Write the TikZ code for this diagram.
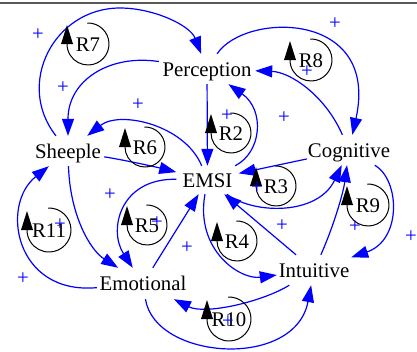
\documentclass[tikz,border=0pt]{standalone}
\usepackage{fontspec}
\setmainfont{Liberation Serif}
\usetikzlibrary{arrows.meta}
\newcommand\rloop[4]{%
  \node[looplbl] (#1) at (#2) {#3};
  \draw[loopc] (#1.center) ++(-92:#4) arc[start angle=-92,end angle=180,radius=#4];
  \fill (#1.center) ++(-#4,-19) -- ++(-6,19) -- ++(12,0) -- cycle;
}
\begin{document}
\begin{tikzpicture}[x=1pt,y=-1pt,
  concept/.style={inner sep=0pt, text height=14pt, text depth=0pt, minimum height=30pt, font=\fontsize{20.8}{24}\selectfont},
  looplbl/.style={inner sep=0pt, text height=14pt, text depth=0pt, font=\fontsize{20.8}{24}\selectfont},
  pol/.style={inner sep=0pt, text=blue, font=\fontsize{20.8}{24}\selectfont},
  link/.style={draw=blue, line width=1.2pt, -{Triangle[length=17pt,width=12pt]}},
  loopc/.style={draw=black, line width=1pt},
]
\useasboundingbox (0,0) rectangle (417,351);
\draw[draw=black!65, line width=1.3pt] (0,3) -- (417,3);

% concepts
\node[concept, minimum width=96pt] (perception) at (207,69) {Perception};
\node[concept, minimum width=72pt] (sheeple) at (68,151) {Sheeple};
\node[concept, minimum width=62pt, minimum height=28pt] (emsi) at (207.5,180) {EMSI};
\node[concept, minimum width=84pt] (cognitive) at (349,150) {Cognitive};
\node[concept, minimum width=92pt, minimum height=31pt] (emotional) at (143,283.5) {Emotional};
\node[concept, minimum width=74pt] (intuitive) at (314,270) {Intuitive};

% links
\coordinate (top1) at (120,8);
\draw[link] (sheeple) .. controls (15,84) and (54,8) .. (top1) .. controls (153,8) and (190,25) .. (perception);
\draw[link] (perception) .. controls (110,54) and (68,80) .. (sheeple);
\draw[link] (emsi) .. controls (185,125) and (120,110) .. (sheeple);
\draw[link] (sheeple) .. controls (130,161) and (160,168) .. (emsi);
\draw[link] (perception) -- (emsi);
\draw[link] (emsi) .. controls (262,152) and (265,110) .. (perception);
\draw[link] (cognitive) -- (emsi);
\draw[link] (perception) .. controls (245,12) and (380,10) .. (cognitive);
\draw[link] (cognitive) .. controls (325,95) and (290,72) .. (perception);
\draw[link] (emsi) .. controls (255,215) and (318,215) .. (cognitive);
\draw[link] (cognitive) .. controls (400,180) and (402,240) .. (intuitive);
\draw[link] (intuitive) .. controls (332,230) and (343,195) .. (cognitive);
\draw[link] (intuitive) -- (emsi);
\draw[link] (emsi) .. controls (195,250) and (240,280) .. (intuitive);
\draw[link] (intuitive) .. controls (262,302) and (205,315) .. (emotional);
\draw[link] (emotional) .. controls (155,360) and (295,370) .. (intuitive);
\draw[link] (emotional) -- (emsi);
\draw[link] (emsi) .. controls (120,178) and (108,230) .. (emotional);
\draw[link] (emotional) .. controls (15,295) and (0,205) .. (sheeple);
\draw[link] (sheeple) .. controls (70,215) and (90,250) .. (emotional);

% loops
\rloop{r7}{88,44}{R7}{21}
\rloop{r6}{145,147}{R6}{20}
\rloop{r8}{311,60}{R8}{21}
\rloop{r2}{231,133}{R2}{20}
\rloop{r3}{276,186}{R3}{20}
\rloop{r5}{147,225}{R5}{20}
\rloop{r11}{49,230}{R11}{22}
\rloop{r4}{237,241}{R4}{20}
\rloop{r9}{368,205}{R9}{21}
\rloop{r10}{229,319}{R10}{22}

% polarities
\node[pol] (p1) at (38,35) {+};
\node[pol] (p2) at (63,88) {+};
\node[pol] (p3) at (138,105) {+};
\node[pol] (p4) at (335,24) {+};
\node[pol] (p5) at (307,72) {+};
\node[pol] (p6) at (227,116) {+};
\node[pol] (p7) at (284,118) {+};
\node[pol] (p8) at (110,195) {+};
\node[pol] (p9) at (257,188) {+};
\node[pol] (p10) at (282,226) {+};
\node[pol] (p11) at (157,223) {+};
\node[pol] (p12) at (187,248) {+};
\node[pol] (p13) at (60,225) {+};
\node[pol] (p14) at (23,279) {+};
\node[pol] (p15) at (355,227) {+};
\node[pol] (p16) at (411,237) {+};
\node[pol] (p17) at (228,322) {+};
\end{tikzpicture}
\end{document}
